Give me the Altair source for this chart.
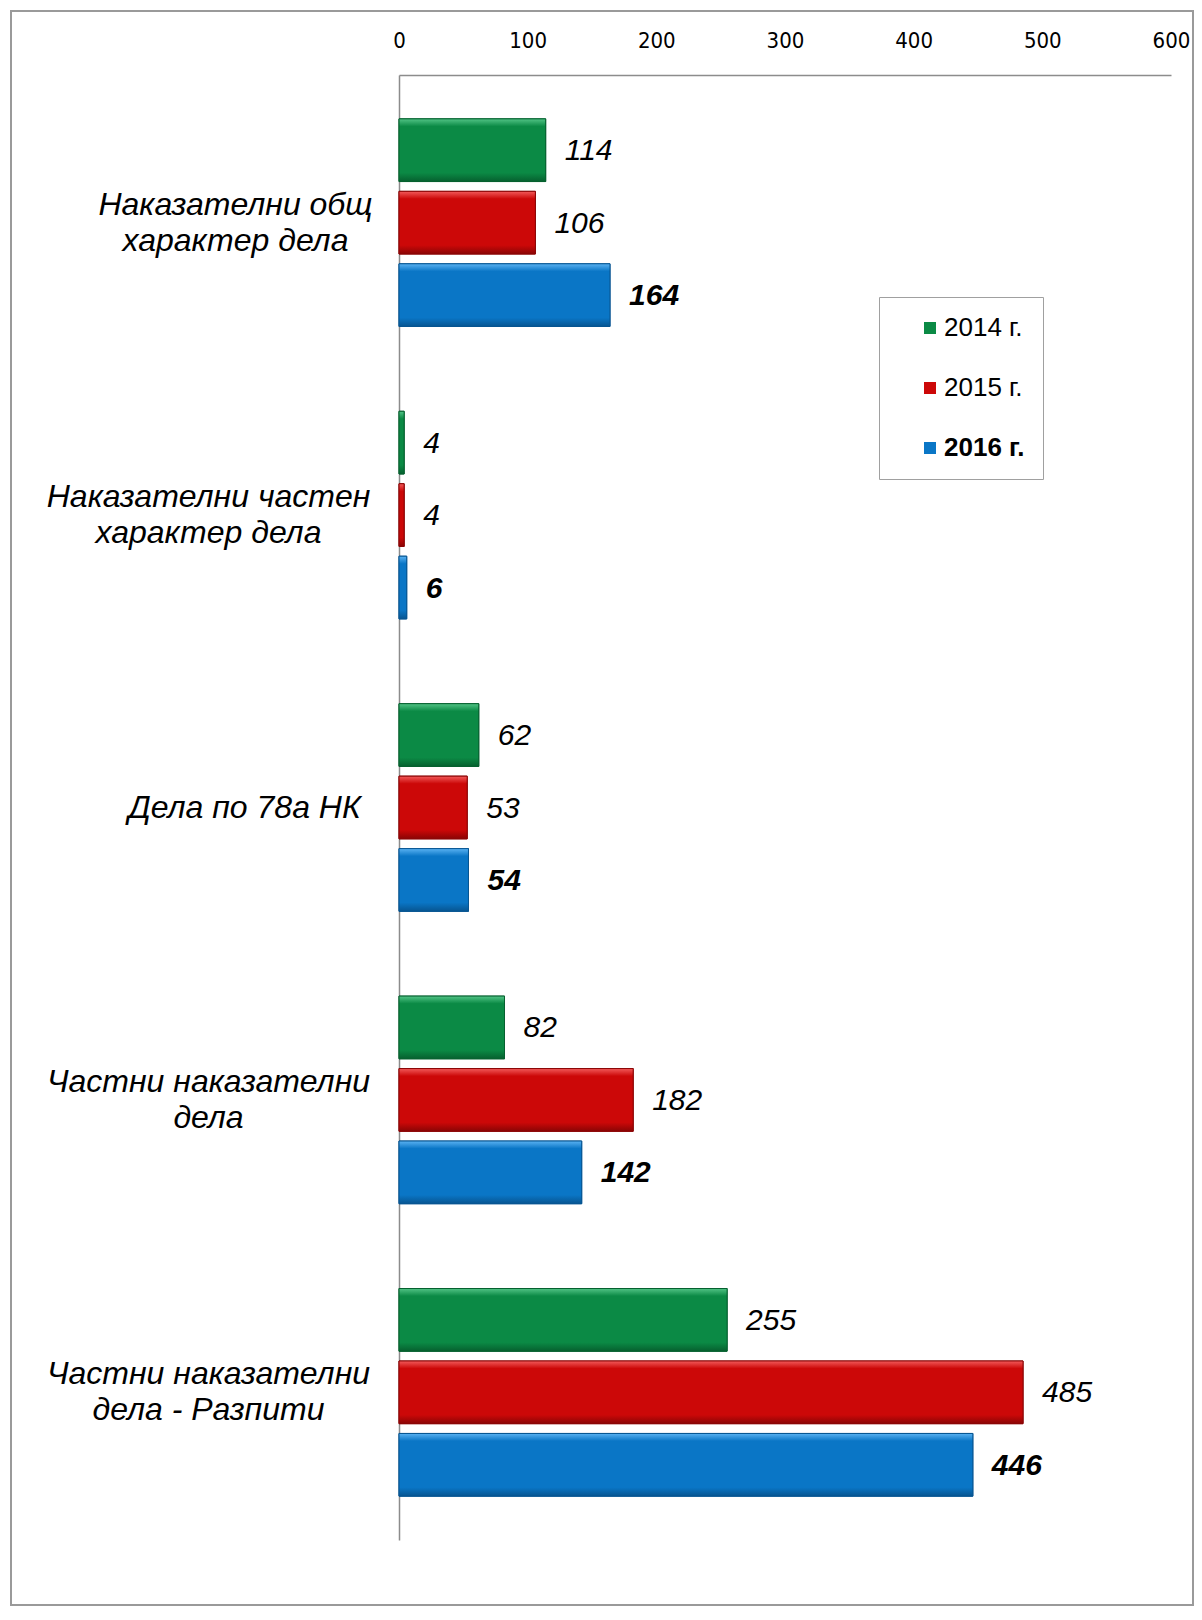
import altair as alt
import pandas as pd

categories = [
    "Наказателни общ|характер дела",
    "Наказателни частен|характер дела",
    "Дела по 78а НК",
    "Частни наказателни|дела",
    "Частни наказателни|дела - Разпити",
]
years = ["2014 г.", "2015 г.", "2016 г."]
v2014 = [114, 4, 62, 82, 255]
v2015 = [106, 4, 53, 182, 485]
v2016 = [164, 6, 54, 142, 446]
colors = ["#0b8a45", "#cc0808", "#0a76c6"]
lights = ["#52c486", "#f25a5a", "#5ab2f2"]
strokes = ["#06602f", "#8a0505", "#075591"]
x_ticks = [0, 100, 200, 300, 400, 500, 600]

rows = []
for yr, vals in zip(years, [v2014, v2015, v2016]):
    for c, v in zip(categories, vals):
        rows.append({"cat": c, "year": yr, "value": v})
df = pd.DataFrame(rows)

W, H = 772, 1465

y_enc = alt.Y(
    "cat:N",
    sort=categories,
    scale=alt.Scale(paddingInner=0.29, paddingOuter=0.15),
    axis=alt.Axis(
        title=None,
        ticks=False,
        labelExpr="split(datum.label, '|')",
        labelFont="Liberation Sans",
        labelFontStyle="italic",
        labelFontSize=32,
        labelLineHeight=36,
        labelColor="#000000",
        labelAlign="center",
        labelPadding={
            "expr": "29 + 9.0 * max(length(split(datum.label, '|')[0]), length(peek(split(datum.label, '|'))))"
        },
        labelOffset={"expr": "-18 * (length(split(datum.label, '|')) - 1)"},
        labelLimit=500,
        domainColor="#8c8c8c",
        domainWidth=1.5,
        grid=False,
    ),
)
yoff = alt.YOffset("year:N", sort=years, scale=alt.Scale(paddingInner=0.135, paddingOuter=0))
x_enc = alt.X(
    "value:Q",
    scale=alt.Scale(domain=[0, 600], nice=False),
    axis=alt.Axis(
        orient="top",
        title=None,
        values=x_ticks,
        ticks=False,
        grid=False,
        labelFlush=False,
        labelFont="Liberation Sans Narrow, DejaVu Sans Condensed, Liberation Sans",
        labelFontSize=22,
        labelColor="#000000",
        labelPadding=23,
        domainColor="#8c8c8c",
        domainWidth=1.5,
    ),
)

frame = alt.Chart(pd.DataFrame({"k": [0]})).mark_rect(
    filled=False, stroke="#9a9a9a", strokeWidth=2
).encode(
    x=alt.value(-388), x2=alt.value(794), y=alt.value(-64), y2=alt.value(1530)
)

bars = alt.Chart(df).mark_bar(strokeWidth=1).encode(
    y=y_enc,
    yOffset=yoff,
    x=x_enc,
    color=alt.Color(
        "year:N",
        sort=years,
        scale=alt.Scale(domain=years, range=colors),
        legend=alt.Legend(
            title=None,
            orient="none",
            legendX=480,
            legendY=222,
            fillColor="#ffffff",
            strokeColor="#a0a0a0",
            padding=18,
            symbolType="square",
            symbolSize=144,
            symbolStrokeWidth=0,
            symbolOffset=20,
            labelOffset=1,
            labelFont="Liberation Sans",
            labelFontSize=26,
            labelColor="#000000",
            labelFontWeight={"expr": "datum.label === '2016 г.' ? 'bold' : 'normal'"},
            rowPadding=34,
        ),
    ),
    stroke=alt.Stroke(
        "year:N", sort=years, scale=alt.Scale(domain=years, range=strokes), legend=None
    ),
)


def bevel_layer(i):
    grad = alt.LinearGradient(
        gradient="linear",
        x1=0, x2=0, y1=0, y2=1,
        stops=[
            alt.GradientStop(color=lights[i], offset=0),
            alt.GradientStop(color=colors[i], offset=0.12),
            alt.GradientStop(color=colors[i], offset=0.86),
            alt.GradientStop(color=strokes[i], offset=1),
        ],
    )
    return (
        alt.Chart(df)
        .transform_filter(alt.datum.year == years[i])
        .mark_bar(color=grad, stroke=strokes[i], strokeWidth=1)
        .encode(
            y=alt.Y("cat:N", sort=categories),
            yOffset=alt.YOffset("year:N", sort=years),
            x=alt.X("value:Q"),
        )
    )


def value_labels(weight, cond):
    return (
        alt.Chart(df)
        .transform_filter(cond)
        .mark_text(
            align="left",
            baseline="middle",
            dx=19,
            dy=1,
            font="Liberation Sans",
            fontStyle="italic",
            fontWeight=weight,
            fontSize=30,
            color="#000000",
        )
        .encode(
            y=alt.Y("cat:N", sort=categories),
            yOffset=alt.YOffset("year:N", sort=years),
            x=alt.X("value:Q"),
            text=alt.Text("value:Q"),
        )
    )


labels_normal = value_labels("normal", alt.datum.year != "2016 г.")
labels_bold = value_labels("bold", alt.datum.year == "2016 г.")

chart = (
    alt.layer(
        frame, bars, bevel_layer(0), bevel_layer(1), bevel_layer(2),
        labels_normal, labels_bold,
    )
    .properties(
        width=W,
        height=H,
        autosize=alt.AutoSizeParams(type="none"),
        padding={"left": 391, "top": 67, "right": 23, "bottom": 68},
        background="#ffffff",
    )
    .configure_view(stroke=None)
)

chart.save("out.html", embed_options={"renderer": "svg", "actions": False})
